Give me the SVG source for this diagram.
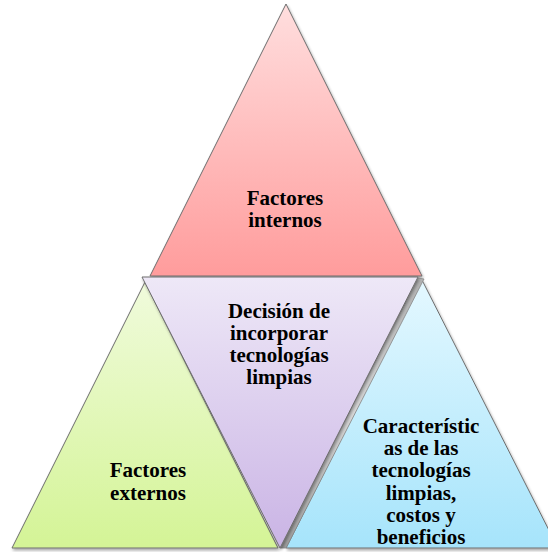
<svg xmlns="http://www.w3.org/2000/svg" width="548" height="552" viewBox="0 0 548 552">
<defs>
<linearGradient id="gRed" x1="0" y1="0" x2="0" y2="1">
<stop offset="0" stop-color="#ffdede"/><stop offset="1" stop-color="#ff9c9c"/>
</linearGradient>
<linearGradient id="gGreen" x1="0" y1="0" x2="0" y2="1">
<stop offset="0" stop-color="#f0fbdc"/><stop offset="1" stop-color="#d4f496"/>
</linearGradient>
<linearGradient id="gBlue" x1="0" y1="0" x2="0" y2="1">
<stop offset="0" stop-color="#e4f8ff"/><stop offset="1" stop-color="#a6e4fb"/>
</linearGradient>
<linearGradient id="gPurple" x1="0" y1="0" x2="0" y2="1">
<stop offset="0" stop-color="#eee8f7"/><stop offset="1" stop-color="#cab4e5"/>
</linearGradient>
<linearGradient id="gBevel" x1="0" y1="0" x2="1" y2="0">
<stop offset="0" stop-color="#9a9a9a"/><stop offset="0.5" stop-color="#d8d8d8"/><stop offset="1" stop-color="#b0b0b0"/>
</linearGradient>
<filter id="sh" x="-10%" y="-10%" width="120%" height="120%">
<feGaussianBlur in="SourceAlpha" stdDeviation="1.5"/>
<feOffset dx="1" dy="2" result="b"/>
<feComponentTransfer><feFuncA type="linear" slope="0.35"/></feComponentTransfer>
<feMerge><feMergeNode/><feMergeNode in="SourceGraphic"/></feMerge>
</filter>
<style>
.tri{stroke:#6e6e6e;stroke-width:1;stroke-linejoin:miter;filter:url(#sh)}
.lbl{font-family:"Liberation Serif","Times New Roman",serif;font-weight:bold;font-size:21px;fill:#000;text-anchor:middle}
</style>
</defs>
<g id="connectors"/>
<g id="node-internos">
<polygon class="tri" points="286,4 150,276 422,276" fill="url(#gRed)"/>
<text class="lbl" x="285" y="205">Factores</text>
<text class="lbl" x="285" y="227">internos</text>
</g>
<g id="node-externos">
<polygon class="tri" points="145,282 12,548 278,548" fill="url(#gGreen)"/>
<text class="lbl" x="148" y="477">Factores</text>
<text class="lbl" x="148" y="500">externos</text>
</g>
<g id="node-caracteristicas">
<polygon class="tri" points="422,280 286,548 558,548" fill="url(#gBlue)"/>
<text class="lbl" x="421" y="433">Característic</text>
<text class="lbl" x="421" y="455">as de las</text>
<text class="lbl" x="421" y="477">tecnologías</text>
<text class="lbl" x="421" y="499.5">limpias,</text>
<text class="lbl" x="421" y="522">costos y</text>
<text class="lbl" x="421" y="544">beneficios</text>
</g>
<g id="node-decision">
<polygon points="418,278 424,279 286,548 280,548" fill="url(#gBevel)" stroke="#888" stroke-width="0.8"/>
<polygon class="tri" points="142,277 418,277 280,548" fill="url(#gPurple)"/>
<text class="lbl" x="279" y="318">Decisión de</text>
<text class="lbl" x="279" y="340">incorporar</text>
<text class="lbl" x="279" y="362">tecnologías</text>
<text class="lbl" x="279" y="384">limpias</text>
</g>
</svg>
